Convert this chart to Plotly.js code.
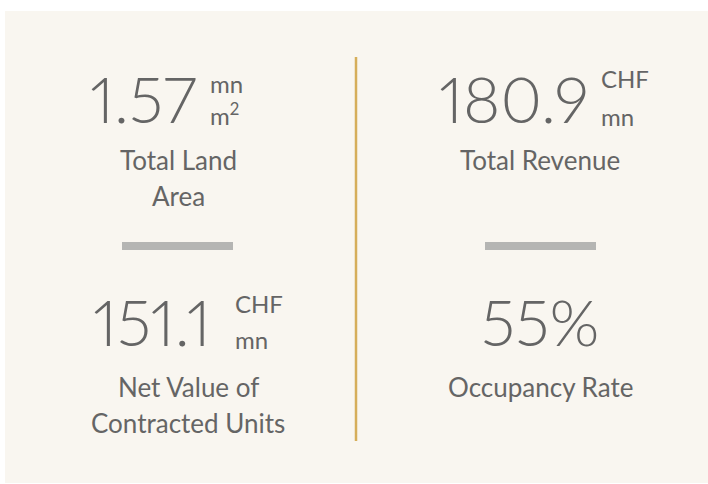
<!DOCTYPE html>
<html>
<head>
<meta charset="utf-8">
<script src="https://cdn.plot.ly/plotly-3.0.1.min.js"></script>
<style>
html,body{margin:0;padding:0;background:#fff;}
#chart{width:708px;height:484px;}
text.annotation-text, .annotation-text, svg text{font-variant-numeric:proportional-nums !important;}
</style>
</head>
<body>
<div id="chart"></div>
<script>
// ---- data ----
const values = ['1.57', '180.9', '151.1', '55%'];
const unitTop = ['mn', 'CHF', 'CHF', ''];
const unitBottom = ['m<sup>2</sup>', 'mn', 'mn', ''];
const labelLines = [['Total Land', 'Area'], ['Total Revenue'], ['Net Value of', 'Contracted Units'], ['Occupancy Rate']];

// ---- layout constants (pixel space of the card) ----
const numRight = [199, 591, 213, null];   // right edge of big number (null = centered)
const numCenterX = [null, null, null, 540];
const numY = [98, 98, 321, 321];
const unitX = [208, 599, 233, null];
const unitTopY = [83, 78, 303, null];
const unitBotY = [114, 116, 339, null];
const labelX = [178, 540, 188, 540];
const labelY0 = [160, 160, 387, 387];
const labelStep = 36;

const textColor = '#656565';
const numFont = {family: 'Lato, "Open Sans", sans-serif', size: 64, color: textColor, weight: 300};
const unitFont = {family: 'Lato, "Open Sans", sans-serif', size: 24, color: textColor};
const labelFont = {family: 'Lato, "Open Sans", sans-serif', size: 26, color: textColor};

const annotations = [];
values.forEach((v, i) => {
  if (numRight[i] !== null) {
    annotations.push({x: numRight[i], y: numY[i], text: v, xanchor: 'right', yanchor: 'middle', showarrow: false, font: numFont, xref: 'x', yref: 'y'});
  } else {
    annotations.push({x: numCenterX[i], y: numY[i], text: v, xanchor: 'center', yanchor: 'middle', showarrow: false, font: numFont, xref: 'x', yref: 'y'});
  }
  if (unitTop[i]) {
    annotations.push({x: unitX[i], y: unitTopY[i], text: unitTop[i], xanchor: 'left', yanchor: 'middle', showarrow: false, font: unitFont, xref: 'x', yref: 'y'});
  }
  if (unitBottom[i]) {
    annotations.push({x: unitX[i], y: unitBotY[i], text: unitBottom[i], xanchor: 'left', yanchor: 'middle', showarrow: false, font: unitFont, xref: 'x', yref: 'y'});
  }
  labelLines[i].forEach((line, k) => {
    annotations.push({x: labelX[i], y: labelY0[i] + k * labelStep, text: line, xanchor: 'center', yanchor: 'middle', showarrow: false, font: labelFont, xref: 'x', yref: 'y'});
  });
});

const shapes = [
  {type: 'rect', xref: 'x', yref: 'y', x0: 5, x1: 708, y0: 11, y1: 483, fillcolor: '#f9f6f0', line: {width: 0}, layer: 'below'},
  {type: 'line', xref: 'x', yref: 'y', x0: 356, x1: 356, y0: 57, y1: 441, line: {color: '#d6ae5a', width: 2.5}},
  {type: 'rect', xref: 'x', yref: 'y', x0: 122, x1: 233, y0: 242, y1: 250, fillcolor: '#b5b5b3', line: {width: 0}},
  {type: 'rect', xref: 'x', yref: 'y', x0: 485, x1: 596, y0: 242, y1: 250, fillcolor: '#b5b5b3', line: {width: 0}}
];

const layout = {
  width: 708, height: 484,
  margin: {l: 0, r: 0, t: 0, b: 0},
  paper_bgcolor: '#ffffff', plot_bgcolor: 'rgba(0,0,0,0)',
  xaxis: {range: [0, 708], visible: false, fixedrange: true},
  yaxis: {range: [484, 0], visible: false, fixedrange: true},
  showlegend: false,
  shapes: shapes,
  annotations: annotations
};

Plotly.newPlot('chart', [], layout, {displayModeBar: false, staticPlot: true});
</script>
</body>
</html>
